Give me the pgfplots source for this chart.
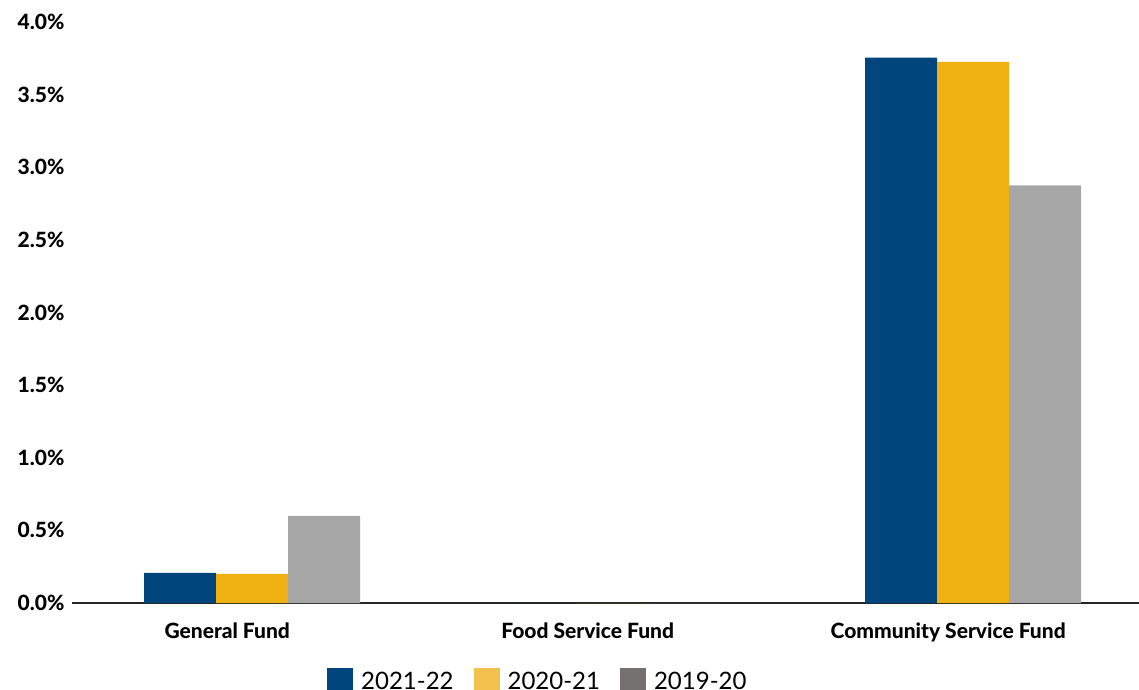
\documentclass[border=0pt]{standalone}
\usepackage{pgfplots}
\pgfplotsset{compat=1.18}
\usepackage{fontspec}
\setmainfont{Lato}[BoldFont={Lato Heavy}]
\definecolor{cblue}{HTML}{00457C}
\definecolor{cyellow}{HTML}{EEB111}
\definecolor{cgray}{HTML}{A6A6A6}
\definecolor{lyellow}{HTML}{F2C14E}
\definecolor{lgray}{HTML}{767171}
\begin{document}
\begin{tikzpicture}
\path[use as bounding box] (0pt,0pt) rectangle (1139pt,-689pt);
\begin{axis}[
  at={(72pt,-603pt)}, anchor=south west,
  scale only axis, width=1067pt, height=581pt,
  ybar=0pt, bar width=72pt,
  xmin=-0.5, xmax=2.46, ymin=0, ymax=4,
  axis x line*=bottom, axis y line*=left,
  x axis line style={line width=1.5pt, draw=black!85, -},
  y axis line style={draw=none},
  major tick length=0pt,
  xtick={0,1,2},
  xticklabels={General Fund, Food Service Fund, Community Service Fund},
  ytick={0,0.5,...,4},
  /pgf/number format/assume math mode=true,
  yticklabel={\pgfmathprintnumber[fixed,fixed zerofill,precision=1]{\tick}\%},
  ticklabel style={font=\fontsize{21}{24}\selectfont\bfseries},
  xticklabel style={xshift=-25pt, yshift=-16pt},
  yticklabel style={xshift=-4pt},
  legend columns=3,
  legend style={at={(0,0)}, anchor=north west, xshift=252pt, yshift=-63pt,
    draw=none, fill=none, font=\fontsize{24}{28}\selectfont},
  legend image code/.code={\fill[#1, draw=none] (0pt,-13pt) rectangle (26pt,13pt);},
]
\addplot[fill=cblue, draw=none, forget plot, bar shift=-72pt] coordinates {(0,0.207) (1,0) (2,3.755)};
\addplot[fill=cyellow, draw=none, forget plot, bar shift=0pt] coordinates {(0,0.200) (1,0) (2,3.725)};
\addplot[fill=cgray, draw=none, forget plot, bar shift=72pt] coordinates {(0,0.600) (1,0) (2,2.875)};
\addlegendimage{fill=cblue, draw=none}
\addlegendentry{\kern6pt 2021-22\kern18pt}
\addlegendimage{fill=lyellow, draw=none}
\addlegendentry{\kern6pt 2020-21\kern18pt}
\addlegendimage{fill=lgray, draw=none}
\addlegendentry{\kern6pt 2019-20}
\end{axis}
\end{tikzpicture}
\end{document}
